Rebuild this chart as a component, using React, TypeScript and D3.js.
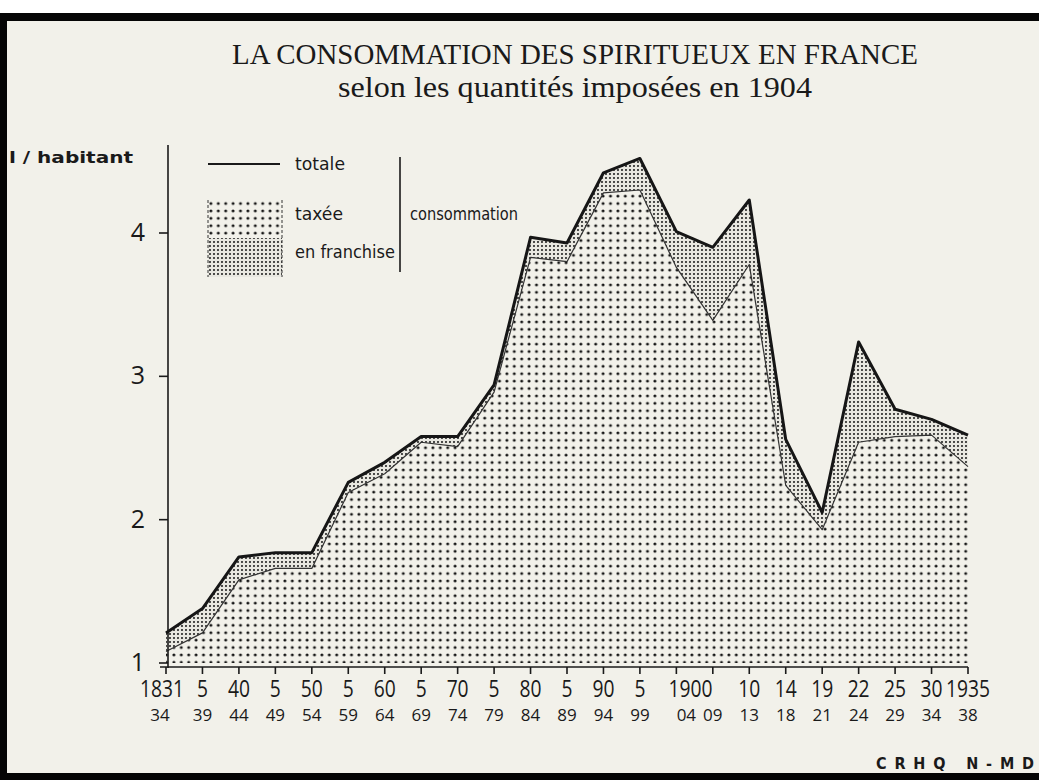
import React from 'react';
import * as d3 from 'd3';

const periods = ['1831-34','1835-39','1840-44','1845-49','1850-54','1855-59','1860-64','1865-69','1870-74','1875-79','1880-84','1885-89','1890-94','1895-99','1900-04','1905-09','1910-13','1914-18','1919-21','1922-24','1925-29','1930-34','1935-38'];
const topLabels = ['1831','5','40','5','50','5','60','5','70','5','80','5','90','5','1900','','10','14','19','22','25','30','1935'];
const bottomLabels = ['34','39','44','49','54','59','64','69','74','79','84','89','94','99','04','09','13','18','21','24','29','34','38'];
// litres per inhabitant
const totale = [1.21,1.38,1.74,1.77,1.77,2.26,2.40,2.58,2.58,2.94,3.97,3.93,4.42,4.52,4.01,3.90,4.23,2.56,2.05,3.24,2.77,2.70,2.59];
const taxee = [1.08,1.21,1.58,1.66,1.66,2.19,2.32,2.54,2.51,2.89,3.83,3.80,4.28,4.30,3.76,3.39,3.78,2.24,1.93,2.54,2.58,2.59,2.37];
const yTicks = [1, 2, 3, 4];

const W = 1039, H = 780;
const BG = '#f2f1ea';

export default function App() {
  const x = d3.scalePoint<string>().domain(periods).range([166, 968]);
  const y = d3.scaleLinear().domain([1, 4]).range([663, 233]);
  const idx = periods.map((_, i) => i);
  const px = (i: number) => x(periods[i]) as number;

  const areaTax = d3.area<number>().x(px).y0(y(1)).y1(i => y(taxee[i]))(idx) || '';
  const areaFr = d3.area<number>().x(px).y0(i => y(taxee[i])).y1(i => y(totale[i]))(idx) || '';
  const lineTot = d3.line<number>().x(px).y(i => y(totale[i]))(idx) || '';
  const lineTax = d3.line<number>().x(px).y(i => y(taxee[i]))(idx) || '';

  const sans = 'Open Sans, DejaVu Sans, sans-serif';
  const cond = 'DejaVu Sans Condensed, DejaVu Sans, sans-serif';
  const serif = 'Liberation Serif, DejaVu Serif, serif';

  const topX = (l: string, i: number) => {
    if (l === '1900') return (px(i) + px(i + 1)) / 2 - 4;
    if (i === 0) return px(i) - 4;
    return px(i);
  };

  return (
    <svg width={W} height={H} style={{ position: 'absolute', left: 0, top: 0 }} xmlns="http://www.w3.org/2000/svg">
      <defs>
        <pattern id="sparse" width={7.4} height={7.4} patternUnits="userSpaceOnUse">
          <rect width={7.4} height={7.4} fill={BG} />
          <circle cx={3.7} cy={3.7} r={1.5} fill="#141414" />
        </pattern>
        <pattern id="dense" width={4} height={4} patternUnits="userSpaceOnUse">
          <rect width={4} height={4} fill="#e9e8e1" />
          <circle cx={2} cy={2} r={1.05} fill="#222" />
        </pattern>
      </defs>
      <rect x={0} y={0} width={W} height={H} fill="#ffffff" />
      <rect x={0} y={13} width={W} height={H - 13} fill={BG} />
      {/* frame */}
      <rect x={0} y={13} width={W} height={8} fill="#050505" />
      <rect x={0} y={13} width={7} height={H - 13} fill="#050505" />
      <rect x={0} y={773} width={W} height={7} fill="#050505" />

      {/* titles */}
      <text x={575} y={64} textAnchor="middle" fontFamily={serif} fontSize={29} fill="#1a1a1a" textLength={686} lengthAdjust="spacingAndGlyphs">LA CONSOMMATION DES SPIRITUEUX EN FRANCE</text>
      <text x={575} y={97} textAnchor="middle" fontFamily={serif} fontSize={30} fill="#1a1a1a" textLength={474} lengthAdjust="spacingAndGlyphs">selon les quantités imposées en 1904</text>

      <text x={9} y={163} fontFamily={cond} fontSize={16} fontWeight="bold" fill="#1a1a1a" textLength={124} lengthAdjust="spacingAndGlyphs">l / habitant</text>

      {/* areas */}
      <path d={areaTax} fill="url(#sparse)" />
      <path d={areaFr} fill="url(#dense)" />
      <path d={lineTax} fill="none" stroke="#333" strokeWidth={1.2} strokeLinejoin="round" />
      <path d={lineTot} fill="none" stroke="#161616" strokeWidth={3} strokeLinejoin="round" />

      {/* y axis */}
      <line x1={168} y1={145} x2={168} y2={668} stroke="#1a1a1a" strokeWidth={1.6} />
      {yTicks.map(t => (
        <g key={t}>
          <line x1={159} x2={168} y1={y(t)} y2={y(t)} stroke="#1a1a1a" strokeWidth={1.6} />
          <text x={145} y={y(t) + 8} textAnchor="end" fontFamily={sans} fontSize={25} fill="#1a1a1a">{t}</text>
        </g>
      ))}

      {/* x axis */}
      <line x1={160} x2={968} y1={667} y2={667} stroke="#1a1a1a" strokeWidth={1.6} />
      {periods.map((p, i) => (
        <line key={p} x1={px(i)} x2={px(i)} y1={667} y2={674} stroke="#1a1a1a" strokeWidth={1.6} />
      ))}
      {topLabels.map((l, i) => l ? (
        <text key={'t' + i} x={topX(l, i)} y={697} textAnchor="middle" fontFamily={sans} fontSize={24} fill="#1a1a1a" textLength={l.length * 11} lengthAdjust="spacingAndGlyphs">{l}</text>
      ) : null)}
      {bottomLabels.map((l, i) => (
        <text key={'b' + i} x={px(i) + (i === 14 ? 10 : 0) - (i === 0 ? 6 : 0)} y={721} textAnchor="middle" fontFamily={sans} fontSize={17} fill="#1a1a1a">{l}</text>
      ))}

      {/* legend */}
      <line x1={208} x2={280} y1={164} y2={164} stroke="#1a1a1a" strokeWidth={2} />
      <text x={295} y={170} fontFamily={cond} fontSize={17} fill="#1a1a1a" textLength={50} lengthAdjust="spacingAndGlyphs">totale</text>
      <rect x={208} y={200} width={74} height={38} fill="url(#sparse)" />
      <rect x={208} y={238} width={74} height={39} fill="url(#dense)" />
      <line x1={208} x2={208} y1={200} y2={277} stroke="#333" strokeWidth={1} strokeDasharray="3 2" />
      <line x1={282} x2={282} y1={200} y2={277} stroke="#333" strokeWidth={1} strokeDasharray="3 2" />
      <text x={295} y={220} fontFamily={cond} fontSize={17} fill="#1a1a1a" textLength={48} lengthAdjust="spacingAndGlyphs">taxée</text>
      <text x={295} y={258} fontFamily={cond} fontSize={17} fill="#1a1a1a" textLength={100} lengthAdjust="spacingAndGlyphs">en franchise</text>
      <line x1={400} x2={400} y1={157} y2={272} stroke="#1a1a1a" strokeWidth={1.6} />
      <text x={410} y={220} fontFamily={cond} fontSize={17} fill="#1a1a1a" textLength={108} lengthAdjust="spacingAndGlyphs">consommation</text>

      <text x={876} y={769} fontFamily={cond} fontSize={16} fontWeight="bold" fill="#1a1a1a" textLength={158} lengthAdjust="spacing">CRHQ  N-MD</text>
    </svg>
  );
}
